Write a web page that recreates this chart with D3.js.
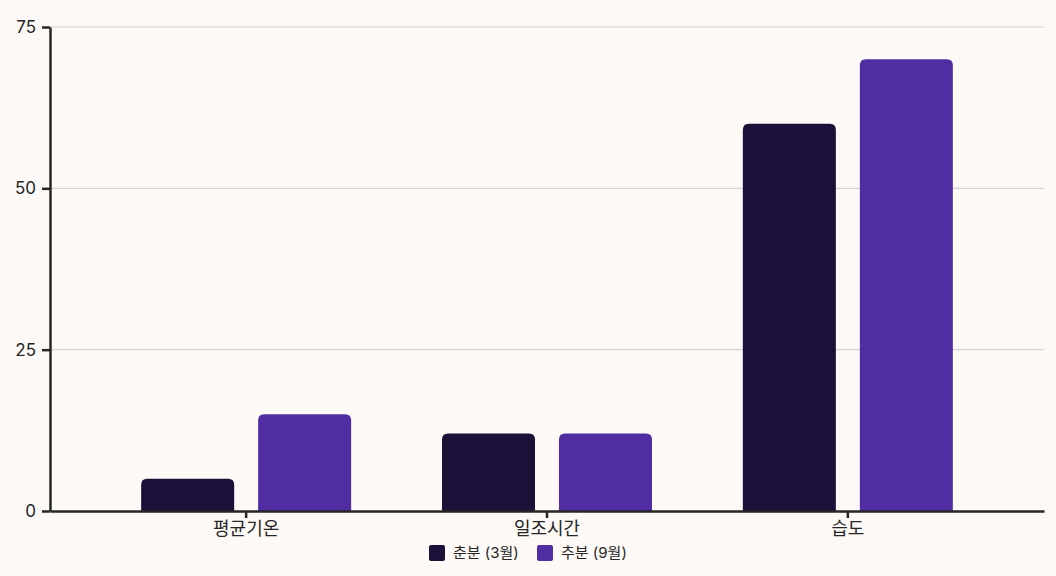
<!DOCTYPE html>
<html><head><meta charset="utf-8">
<script src="https://cdn.jsdelivr.net/npm/d3@7/dist/d3.min.js"></script>
<style>
html,body{margin:0;padding:0;background:#fdf9f6;}
svg{display:block;font-family:Inter,"Noto Sans CJK KR",sans-serif;}
</style></head><body>
<svg id="c" width="1056" height="576"></svg>
<script>
const categories = ["평균기온", "일조시간", "습도"];
const seriesNames = ["춘분 (3월)", "추분 (9월)"];
const springValues = [5, 12, 60];
const autumnValues = [15, 12, 70];
const yTicks = [0, 25, 50, 75];
const colors = ["#1c1038", "#512da3"];

const W = 1056, H = 576;
const m = {left: 50, right: 12, top: 27, bottom: 65};
const svg = d3.select("#c");
const FONT = "Inter,'Noto Sans CJK KR',sans-serif";

const x = d3.scaleBand().domain(categories).range([m.left, W - m.right]).paddingInner(0).paddingOuter(0.152);
const y = d3.scaleLinear().domain([0, 75]).range([H - m.bottom, m.top]);
const xs = d3.scaleBand().domain(seriesNames).range([x.bandwidth()/2 - 105, x.bandwidth()/2 + 105]).paddingInner(0.205);

// gridlines
svg.append("g").selectAll("line").data(yTicks.filter(d => d > 0)).join("line")
  .attr("x1", m.left).attr("x2", W - m.right)
  .attr("y1", d => y(d)).attr("y2", d => y(d))
  .attr("stroke", "#d6d2cf").attr("stroke-width", 1.2);

const data = categories.map((c, i) => ({cat: c, vals: [springValues[i], autumnValues[i]]}));

function barPath(x0, w, yTop, yBot, r) {
  r = Math.min(r, w/2, (yBot - yTop));
  return `M${x0},${yBot}V${yTop + r}Q${x0},${yTop} ${x0 + r},${yTop}H${x0 + w - r}Q${x0 + w},${yTop} ${x0 + w},${yTop + r}V${yBot}Z`;
}

const g = svg.append("g");
data.forEach(d => {
  d.vals.forEach((v, j) => {
    const bx = x(d.cat) + xs(seriesNames[j]);
    g.append("path")
      .attr("d", barPath(bx, xs.bandwidth(), y(v), y(0), 6))
      .attr("fill", colors[j]);
  });
});

// axes
const yAxis = d3.axisLeft(y).tickValues(yTicks).tickSize(8).tickSizeOuter(0).tickPadding(6);
const ya = svg.append("g").attr("transform", `translate(${m.left},0)`).call(yAxis);
ya.select(".domain").attr("stroke", "#262626").attr("stroke-width", 2.5);
ya.selectAll(".tick line").attr("stroke", "#262626").attr("stroke-width", 2.5);
ya.selectAll("text").attr("font-size", 17).attr("fill", "#262626").attr("font-family", FONT);

const xAxis = d3.axisBottom(x).tickSize(7).tickSizeOuter(0).tickPadding(4);
const xa = svg.append("g").attr("transform", `translate(0,${y(0)})`).call(xAxis);
xa.select(".domain").attr("stroke", "#262626").attr("stroke-width", 2.5);
xa.selectAll(".tick line").attr("stroke", "#262626").attr("stroke-width", 2.5);
xa.selectAll("text").attr("font-size", 18).attr("fill", "#262626").attr("font-family", FONT);

// legend
const leg = svg.append("g");
const legX = [429, 537];
seriesNames.forEach((s, j) => {
  leg.append("rect").attr("x", legX[j]).attr("y", 545).attr("width", 16).attr("height", 16).attr("rx", 2).attr("fill", colors[j]);
  leg.append("text").attr("x", legX[j] + 24).attr("y", 553).attr("dy", "0.35em")
    .attr("font-size", 15).attr("fill", "#262626").attr("font-family", FONT).text(s);
});
</script>
</body></html>
